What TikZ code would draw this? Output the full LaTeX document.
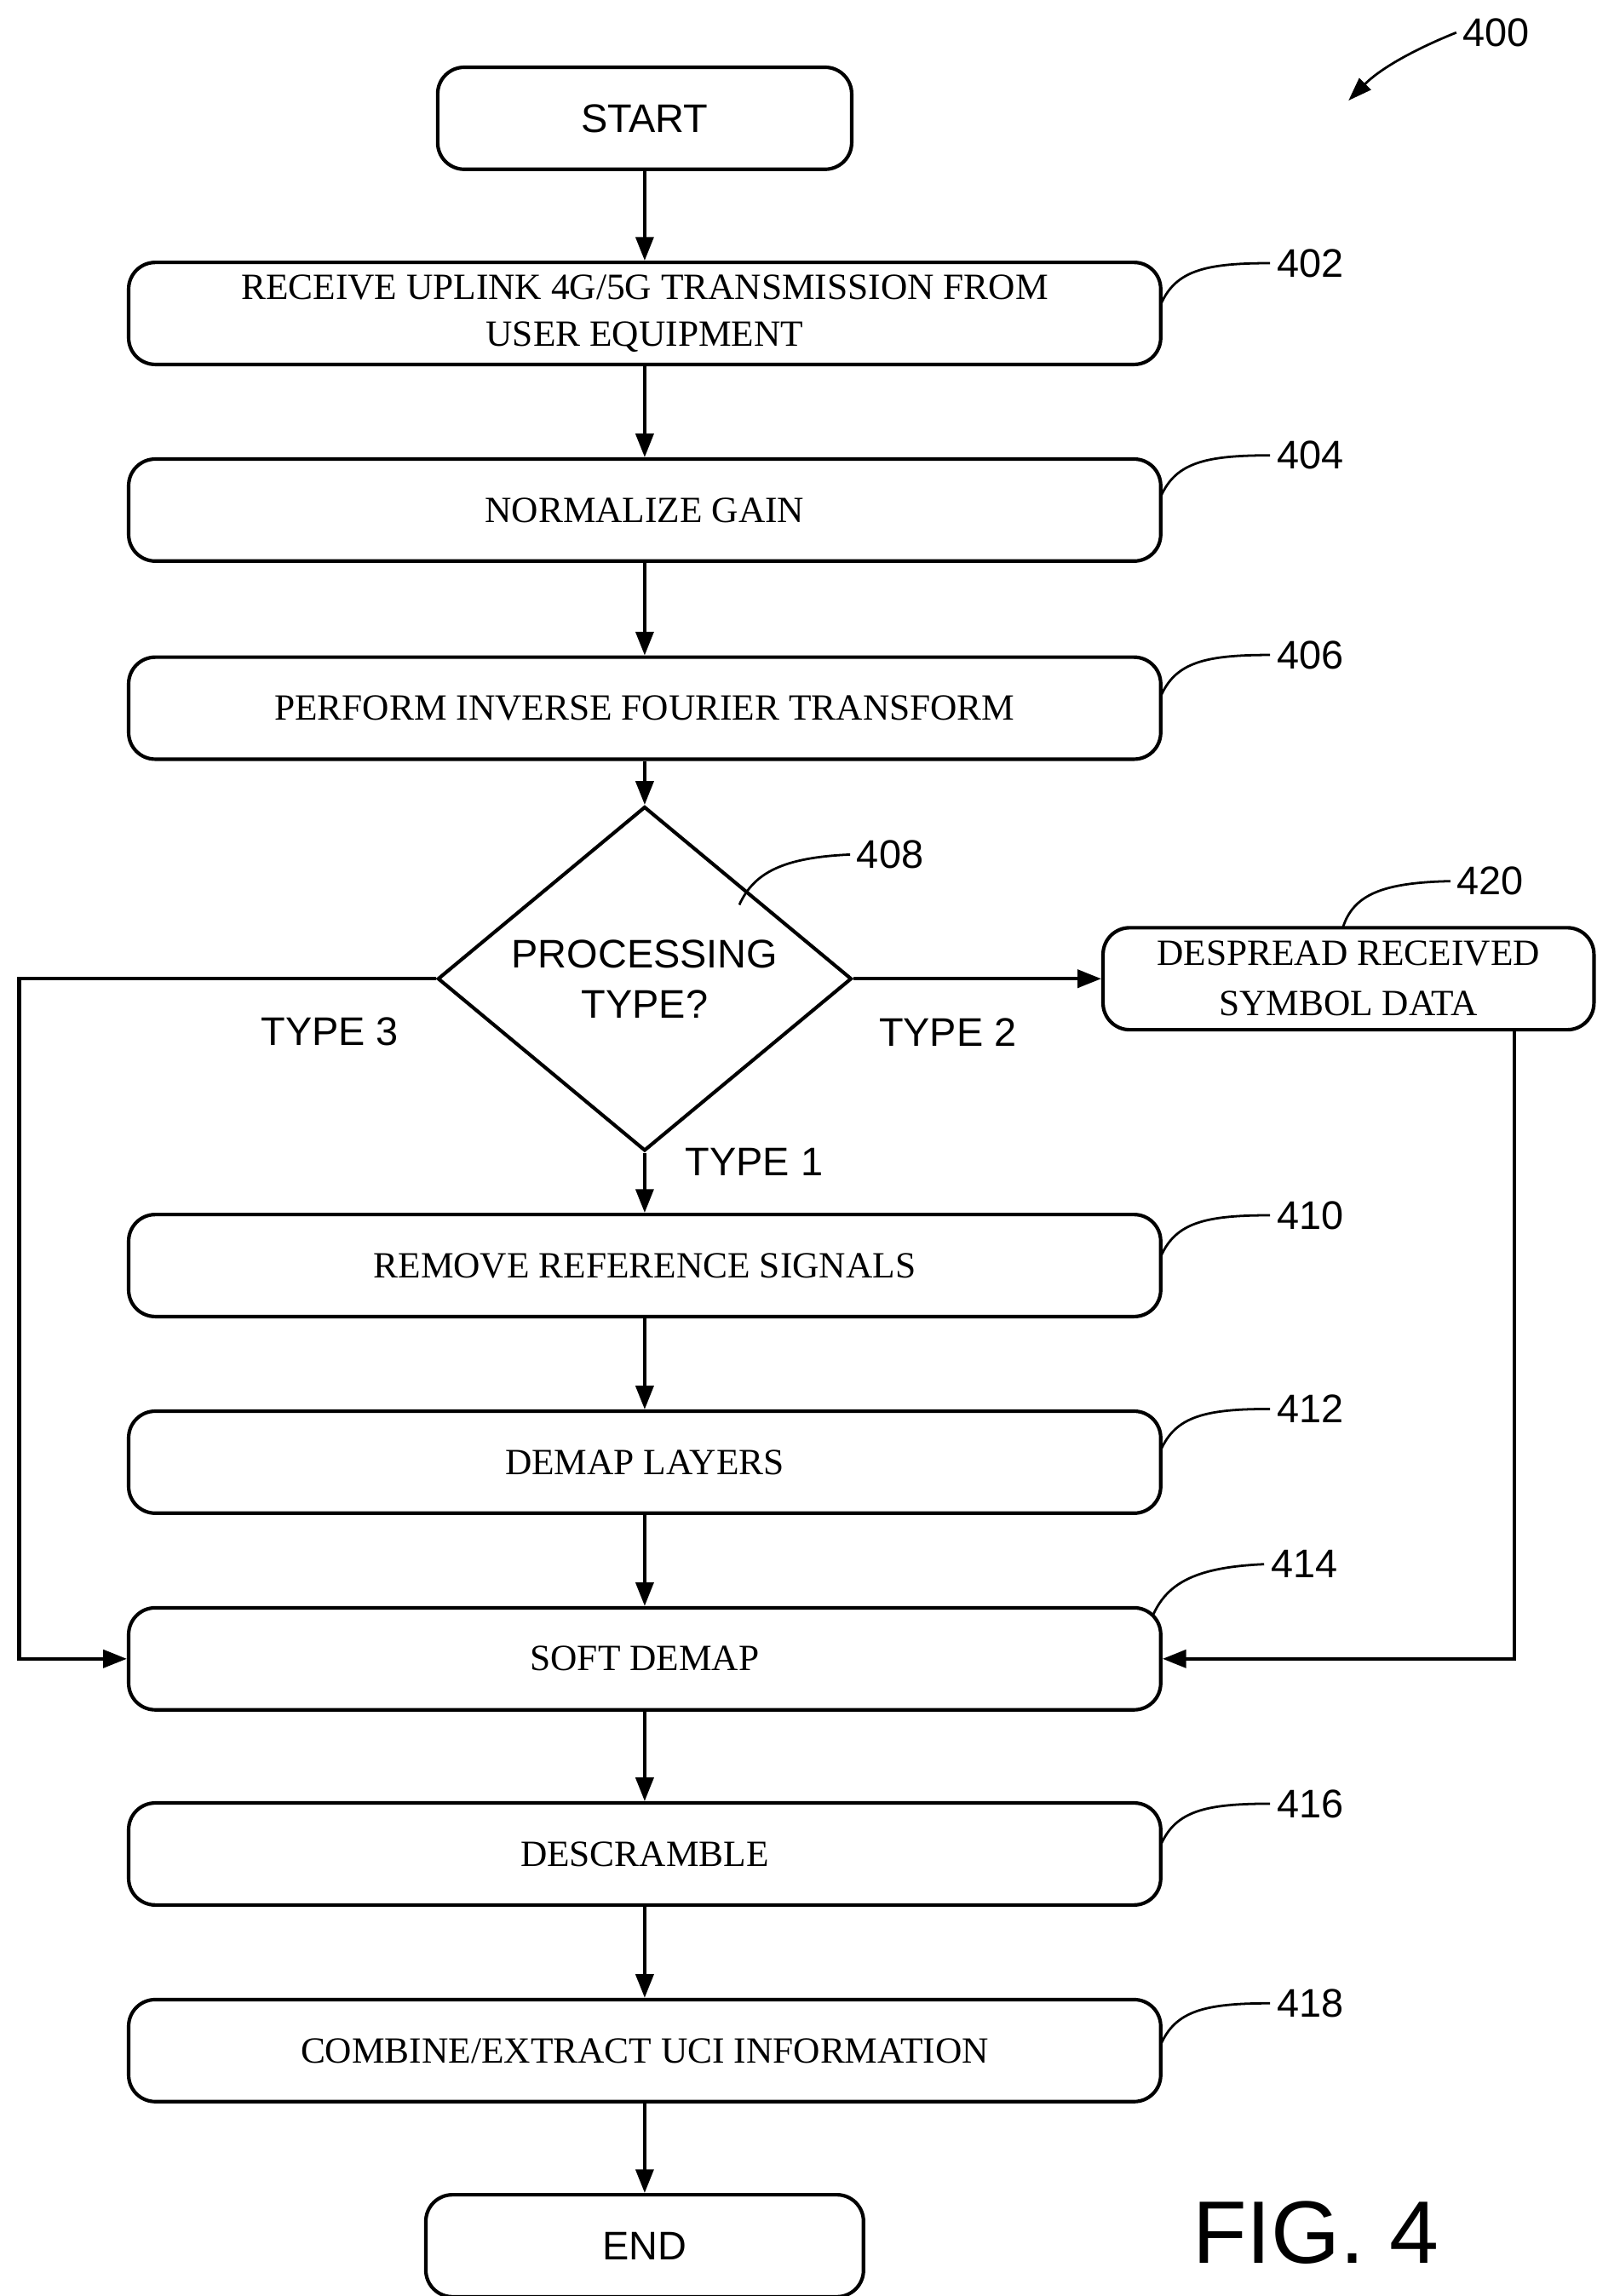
\documentclass[tikz,border=0pt]{standalone}
\usepackage{fontspec}
\setmainfont{Liberation Serif}
\setsansfont{Liberation Sans}
\usetikzlibrary{arrows.meta,shapes.geometric}
\begin{document}
\begin{tikzpicture}[x=1pt,y=-1pt,line width=2.4pt,
  box/.style={draw,rounded corners=18pt,minimum width=698pt,minimum height=69pt,font=\fontsize{25}{32}\selectfont,align=center,inner sep=0pt},
  term/.style={draw,rounded corners=18pt,minimum height=69pt,font=\sffamily\fontsize{27}{32}\selectfont,inner sep=0pt},
  lab/.style={font=\sffamily\fontsize{27}{32}\selectfont},
  arr/.style={-{Triangle[length=16pt,width=12pt]}},
  lead/.style={line width=1.6pt}]
\useasboundingbox (0,0) rectangle (1080,1553);
\node[term,minimum width=280pt] (start) at (436,80) {START};
\node[box] (b402) at (436,212) {RECEIVE UPLINK 4G/5G TRANSMISSION FROM\\USER EQUIPMENT};
\node[box] (b404) at (436,345) {NORMALIZE GAIN};
\node[box] (b406) at (436,479) {PERFORM INVERSE FOURIER TRANSFORM};
\node[draw,diamond,minimum width=280pt,minimum height=195pt,inner sep=0pt,align=center,font=\sffamily\fontsize{27}{34}\selectfont] (d408) at (436,662) {PROCESSING\\TYPE?};
\node[draw,rounded corners=18pt,minimum width=332pt,minimum height=69pt,inner sep=0pt,align=center,font=\fontsize{25}{34}\selectfont] (b420) at (912,662) {DESPREAD RECEIVED\\SYMBOL DATA};
\node[box] (b410) at (436,856) {REMOVE REFERENCE SIGNALS};
\node[box] (b412) at (436,989) {DEMAP LAYERS};
\node[box] (b414) at (436,1122) {SOFT DEMAP};
\node[box] (b416) at (436,1254) {DESCRAMBLE};
\node[box] (b418) at (436,1387) {COMBINE/EXTRACT UCI INFORMATION};
\node[term,minimum width=296pt] (end) at (436,1519) {END};
\draw[arr] (start) -- (b402);
\draw[arr] (b402) -- (b404);
\draw[arr] (b404) -- (b406);
\draw[arr] (b406) -- (d408);
\draw[arr] (d408) -- (b410);
\draw[arr] (b410) -- (b412);
\draw[arr] (b412) -- (b414);
\draw[arr] (b414) -- (b416);
\draw[arr] (b416) -- (b418);
\draw[arr] (b418) -- (end);
\draw[arr] (d408.east) -- (b420.west);
\coordinate (l1) at (13,662); \coordinate (l2) at (13,1122);
\draw[arr] (d408.west) -- (l1) -- (l2) -- (b414.west);
\coordinate (r1) at (1024,697); \coordinate (r2) at (1024,1122);
\draw[arr] (r1) -- (r2) -- (b414.east);
\node[lab] (t3) at (223,698) {TYPE 3};
\node[lab] (t2) at (641,698) {TYPE 2};
\node[lab] (t1) at (510,786) {TYPE 1};
\foreach \n/\y in {402/178,404/308,406/443,410/822,412/953,416/1220,418/1355}{
  \node[lab] (n\n) at (886,\y) {\n};
  \draw[lead] (785,\y+28) .. controls (795,\y+5) and (815,\y) .. (n\n.west);
}
\node[lab] (n408) at (602,578) {408};
\draw[lead] (500,612) .. controls (510,590) and (530,580) .. (n408.west);
\node[lab] (n420) at (1008,596) {420};
\draw[lead] (908,628) .. controls (915,605) and (935,597) .. (n420.west);
\node[lab] (n414) at (882,1058) {414};
\draw[lead] (780,1092) .. controls (790,1070) and (810,1060) .. (n414.west);
\node[lab] (n400) at (1012,22) {400};
\draw[lead,-{Triangle[length=16pt,width=11pt]}] (n400.west) .. controls (960,32) and (935,45) .. (912,68);
\node[font=\sffamily\fontsize{60}{70}\selectfont] (fig) at (890,1510) {FIG. 4};
\end{tikzpicture}
\end{document}
